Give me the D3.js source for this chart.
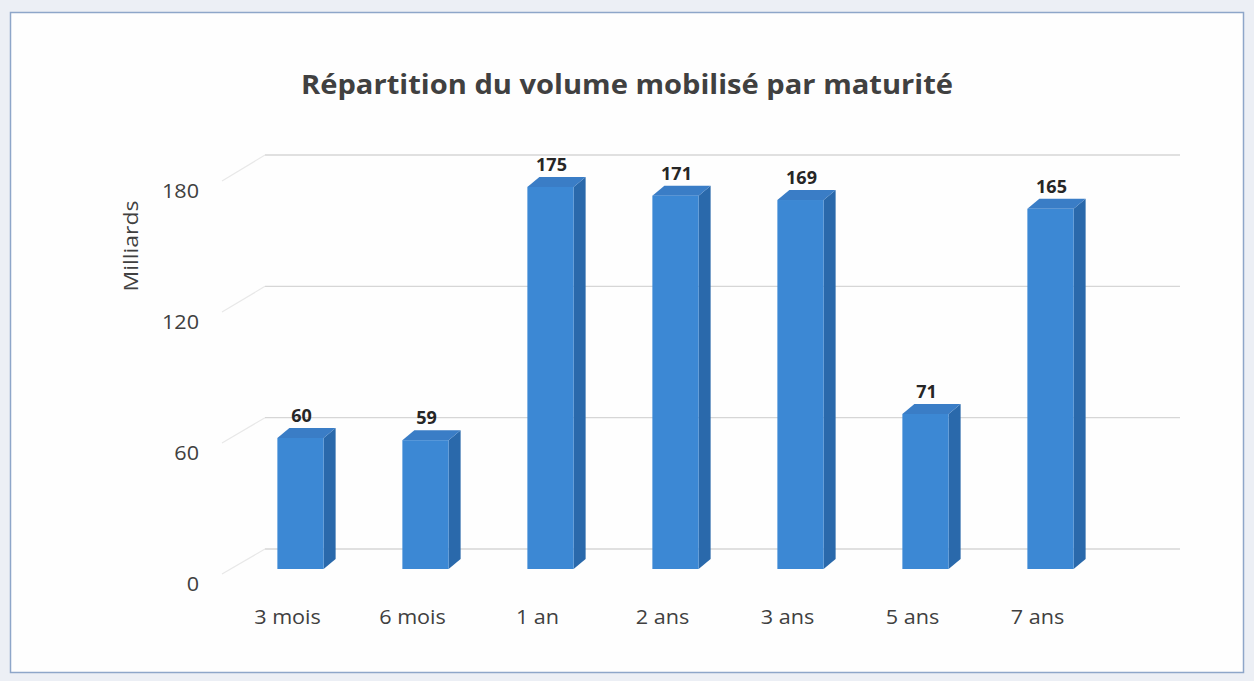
<!DOCTYPE html>
<html>
<head>
<meta charset="utf-8">
<script src="https://cdn.jsdelivr.net/npm/d3@7"></script>
<style>
  body { margin: 0; background: #eceff5; }
  svg { display: block; font-family: "Open Sans", "Liberation Sans", sans-serif; }
</style>
</head>
<body>
<svg id="chart"></svg>
<script>
// chart data
const categories = ["3 mois", "6 mois", "1 an", "2 ans", "3 ans", "5 ans", "7 ans"];
const volumes = [60, 59, 175, 171, 169, 71, 165];
const yTicks = [0, 60, 120, 180];
const chartTitle = "Répartition du volume mobilisé par maturité";
const yAxisTitle = "Milliards";

const W = 1254, H = 681;
const svg = d3.select("#chart").attr("width", W).attr("height", H);

// white chart frame
svg.append("rect")
    .attr("x", 10.5).attr("y", 12.5)
    .attr("width", 1233).attr("height", 660)
    .attr("fill", "#fefefe")
    .attr("stroke", "#8ea6c9")
    .attr("stroke-width", 1.5);

// scales: back wall for gridlines, bar plane for bars, front plane for tick labels
const x = d3.scaleBand()
    .domain(categories)
    .range([238, 1113])
    .paddingInner(0.63)
    .paddingOuter(0.315);

const yBack = d3.scaleLinear().domain([0, 180]).range([549, 155]);
const yBar = d3.scaleLinear().domain([0, 180]).range([569, 176]);
const yFront = d3.scaleLinear().domain([0, 180]).range([584, 191]);

// 3D offsets
const depth = { dx: 12, dy: -10 };
const wall = { x0: 265, x1: 1180, fx: 222 };

// the source picture is stretched sideways, so text gets a little x-scale
const place = (x, y, sx) => `translate(${x},${y}) scale(${sx},1)`;

// back wall gridlines
svg.append("g")
    .selectAll("line")
    .data(yTicks)
    .join("line")
    .attr("x1", wall.x0).attr("x2", wall.x1)
    .attr("y1", d => yBack(d)).attr("y2", d => yBack(d))
    .attr("stroke", "#d6d6d6")
    .attr("stroke-width", 1.3);

// side wall gridlines (perspective)
svg.append("g")
    .selectAll("line")
    .data(yTicks)
    .join("line")
    .attr("x1", wall.fx).attr("y1", d => yFront(d) - 10)
    .attr("x2", wall.x0).attr("y2", d => yBack(d))
    .attr("stroke", "#e8e8e8")
    .attr("stroke-width", 1.2);

// value axis labels
svg.append("g")
    .selectAll("text")
    .data(yTicks)
    .join("text")
    .attr("transform", d => place(199, yFront(d) + 7, 1.08))
    .attr("text-anchor", "end")
    .attr("font-size", 20)
    .attr("fill", "#404040")
    .text(d => d);

// bars
const bars = svg.append("g")
    .selectAll("g")
    .data(categories.map((c, i) => ({ cat: c, value: volumes[i] })))
    .join("g");

// side face
bars.append("path")
    .attr("d", d => {
        const x1 = x(d.cat) + x.bandwidth(), y0 = yBar(0), y1 = yBar(d.value);
        return `M${x1},${y1} L${x1 + depth.dx},${y1 + depth.dy} L${x1 + depth.dx},${y0 + depth.dy} L${x1},${y0} Z`;
    })
    .attr("fill", "#2a69ab");

// top face
bars.append("path")
    .attr("d", d => {
        const x0 = x(d.cat), x1 = x0 + x.bandwidth(), y1 = yBar(d.value);
        return `M${x0},${y1} L${x0 + depth.dx},${y1 + depth.dy} L${x1 + depth.dx},${y1 + depth.dy} L${x1},${y1} Z`;
    })
    .attr("fill", "#3a7dc6");

// front face
bars.append("rect")
    .attr("x", d => x(d.cat))
    .attr("y", d => yBar(d.value))
    .attr("width", x.bandwidth())
    .attr("height", d => yBar(0) - yBar(d.value))
    .attr("fill", "#3c88d4");

// data labels
bars.append("text")
    .attr("transform", d => place(x(d.cat) + x.bandwidth() / 2 + 1, yBar(d.value) + depth.dy - 6, 1.0))
    .attr("text-anchor", "middle")
    .attr("font-size", 18)
    .attr("font-weight", "bold")
    .attr("fill", "#262626")
    .text(d => d.value);

// category labels
svg.append("g")
    .selectAll("text")
    .data(categories)
    .join("text")
    .attr("transform", d => place(x(d) + x.bandwidth() / 2 - 13, 624, 1.08))
    .attr("text-anchor", "middle")
    .attr("font-size", 20)
    .attr("fill", "#404040")
    .text(d => d);

// y-axis title
svg.append("text")
    .attr("transform", "translate(138,246) rotate(-90) scale(1.15,1)")
    .attr("text-anchor", "middle")
    .attr("font-size", 20)
    .attr("fill", "#404040")
    .text(yAxisTitle);

// chart title
svg.append("text")
    .attr("transform", place(627, 94, 1.12))
    .attr("text-anchor", "middle")
    .attr("font-size", 26)
    .attr("font-weight", "bold")
    .attr("fill", "#404040")
    .text(chartTitle);
</script>
</body>
</html>
